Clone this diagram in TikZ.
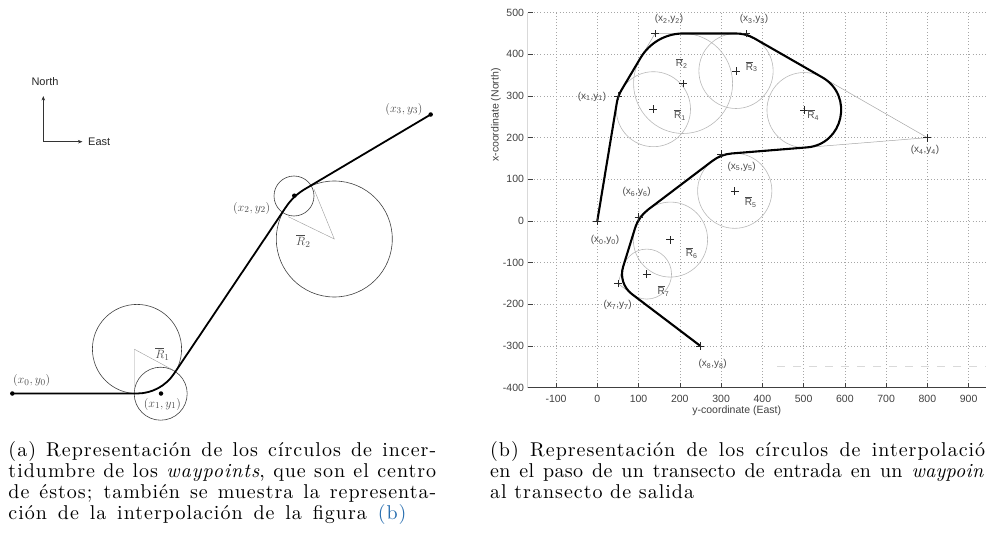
\documentclass[tikz,border=0pt]{standalone}
\usepackage{fontspec}
\setsansfont{Liberation Sans}
\newfontfamily\capfont{lmroman10-regular.otf}[ItalicFont=lmroman10-italic.otf, LetterSpace=5]
\newfontfamily\capfontt{lmroman10-regular.otf}[ItalicFont=lmroman10-italic.otf, LetterSpace=1.5]
\usetikzlibrary{calc,shapes.misc,arrows.meta}
\definecolor{linkblue}{RGB}{40,110,175}
\newcommand\Rbar[1]{$\overline{\mbox{R}}$\textsubscript{#1}}
\newcommand\wl[1]{(x\textsubscript{#1},y\textsubscript{#1})}
\tikzset{
  pathA/.style={draw=black, line width=1.8pt, line join=round},
  circA/.style={draw=black!75, line width=0.6pt},
  triA/.style={draw=black!40, line width=0.4pt},
  dotA/.style={circle, fill=black, inner sep=0pt, minimum size=4.5pt},
  mathlbl/.style={font=\fontsize{12.5}{14}\selectfont, text=black!70, inner sep=0pt},
  compass/.style={draw=black!80, line width=0.6pt, -{Stealth[length=4.5pt,width=3.5pt]}},
  sanslbl/.style={font=\sffamily\fontsize{11}{13}\selectfont, text=black!85, inner sep=0pt},
  gridline/.style={draw=black!35, line width=0.4pt, dash pattern=on 0.8pt off 2.4pt},
  axisline/.style={draw=black!75, line width=0.7pt},
  axisleft/.style={draw=black!15, line width=0.5pt},
  tickmark/.style={draw=black!75, line width=0.6pt},
  ticklbl/.style={font=\sffamily\fontsize{10.5}{12}\selectfont, text=black!75, inner sep=0pt},
  polyB/.style={draw=black!35, line width=0.5pt},
  circB/.style={draw=black!28, line width=0.6pt},
  pathB/.style={draw=black, line width=2.1pt, line join=round},
  plusm/.style={cross out, draw=black!85, line width=0.6pt, minimum size=5pt, inner sep=0pt, rotate=45},
  wlbl/.style={font=\sffamily\fontsize{10}{12}\selectfont, text=black!70, inner sep=0pt},
  caption/.style={font=\capfont\fontsize{20}{21}\selectfont, inner sep=0pt, anchor=base west},
  captiont/.style={font=\capfontt\fontsize{20}{21}\selectfont, inner sep=0pt, anchor=base west},
}
\begin{document}
\begin{tikzpicture}[x=1pt,y=-1pt]
\useasboundingbox (0,0) rectangle (986,535);

% ---------------- panel (a) ----------------
\node[sanslbl] (north) at (45,82) {North};
\node[sanslbl, anchor=west] (east) at (88,141.7) {East};
\coordinate (o) at (43.3,141.7);
\draw[compass] (o) -- (43.3,96);
\draw[compass] (o) -- (82.5,141.7);

\coordinate (a0) at (12.3,393.5);
\coordinate (a1) at (161,393.5);
\coordinate (a2) at (294.3,195.7);
\coordinate (a3) at (430.7,114.5);
\coordinate (c1) at (137,349);
\coordinate (c2) at (334.3,239);

\draw[circA] (c1) circle[radius=44.6];
\draw[circA] (c2) circle[radius=58];
\draw[circA] (160.7,393.7) circle[radius=26.5];
\draw[circA] (294,196) circle[radius=20];

\draw[triA] (134.5,393.5) -- (134.5,349.3) -- (175.7,371.5);
\draw[triA] (314,189.3) -- (c2) -- (288.3,216.7);

\draw[pathA] (a0) -- (137,393.5) arc[start angle=90, end angle=33.9, radius=44.5]
   -- (286.2,206.7) arc[start angle=213.9, end angle=239.2, radius=57.9] -- (a3);

\node[dotA] (d0) at (a0) {};
\node[dotA] (d1) at (a1) {};
\node[dotA] (d2) at (a2) {};
\node[dotA] (d3) at (a3) {};

\node[mathlbl] (la0) at (31.7,380.5) {$(x_0,y_0)$};
\node[mathlbl] (la1) at (162.3,404) {$(x_1,y_1)$};
\node[mathlbl] (la2) at (251.7,208) {$(x_2,y_2)$};
\node[mathlbl] (la3) at (404,109) {$(x_3,y_3)$};
\node[mathlbl] (lr1) at (162.5,354) {$\overline{R}_1$};
\node[mathlbl] (lr2) at (303.3,241) {$\overline{R}_2$};

% ---------------- panel (b) ----------------
\draw[black!15, line width=0.8pt, dash pattern=on 8pt off 8pt] (777,366) -- (986,366);
\begin{scope}[shift={(597.3,221)}, x=0.4126pt, y=0.4167pt]
  \foreach \u in {-100,0,...,900} \draw[gridline] (\u,-400) -- (\u,500);
  \foreach \v in {-300,-200,...,500} \draw[gridline] (-168.7,\v) -- (945,\v);
  \draw[axisleft] (-168.7,-400) -- (-168.7,500);
  \draw[axisline] (-168.7,-400) -- (945,-400);
  \foreach \u in {-100,0,...,900} {
    \draw[tickmark] (\u,-400) -- ++(0pt,5pt);
    \node[ticklbl, yshift=-11pt] (xt\u) at (\u,-400) {\u};
  }
  \foreach \v in {-400,-300,...,500} {
    \draw[tickmark] (-168.7,\v) -- ++(5pt,0pt);
    \node[ticklbl, anchor=east, xshift=-3.5pt] (yt\v) at (-168.7,\v) {\v};
  }

  \coordinate (P0) at (0,0);
  \coordinate (P1) at (50,300);
  \coordinate (P2) at (140,450);
  \coordinate (P3) at (360,450);
  \coordinate (P4) at (800,200);
  \coordinate (P5) at (300,160);
  \coordinate (P6) at (100,10);
  \coordinate (P7) at (50,-150);
  \coordinate (P8) at (250,-300);
  \coordinate (C1) at (135.9,268.3);
  \coordinate (C2) at (207.9,330);
  \coordinate (C3) at (336.2,360);
  \coordinate (C4) at (501.2,266.3);
  \coordinate (C5) at (333.1,72.4);
  \coordinate (C6) at (177.3,-44.6);
  \coordinate (C7) at (119.9,-127.4);

  \draw[polyB] (P0) -- (P1) -- (P2) -- (P3) -- (P4) -- (P5) -- (P6) -- (P7) -- (P8);

  \draw[circB] (C1) circle[radius=90];
  \draw[circB] (C2) circle[radius=120];
  \draw[circB] (C3) circle[radius=90];
  \draw[circB] (C4) circle[radius=90];
  \draw[circB] (C5) circle[radius=90];
  \draw[circB] (C6) circle[radius=90];
  \draw[circB] (C7) circle[radius=60];

  \coordinate (T1a) at (47.19,283.15);  \coordinate (T1b) at (58.79,314.65);
  \coordinate (T2a) at (105.03,391.72); \coordinate (T2b) at (207.97,450);
  \coordinate (T3a) at (336.22,450);    \coordinate (T3b) at (380.67,438.25);
  \coordinate (T4a) at (545.44,344.64); \coordinate (T4b) at (508.14,176.66);
  \coordinate (T5a) at (325.98,162.08); \coordinate (T5b) at (279.15,144.36);
  \coordinate (T6a) at (123.24,27.43);  \coordinate (T6b) at (91.33,-17.73);
  \coordinate (T7a) at (62.64,-109.56); \coordinate (T7b) at (83.9,-175.42);

  \draw[pathB] (P0) -- (T1a)
    .. controls ($(T1a)!0.6607!(P1)$) and ($(T1b)!0.6607!(P1)$) .. (T1b) -- (T2a)
    .. controls ($(T2a)!0.6203!(P2)$) and ($(T2b)!0.6203!(P2)$) .. (T2b) -- (T3a)
    .. controls ($(T3a)!0.6556!(P3)$) and ($(T3b)!0.6556!(P3)$) .. (T3b) -- (T4a)
    .. controls ($(T4a)!0.3028!(P4)$) and ($(T4b)!0.3028!(P4)$) .. (T4b) -- (T5a)
    .. controls ($(T5a)!0.6533!(P5)$) and ($(T5b)!0.6533!(P5)$) .. (T5b) -- (T6a)
    .. controls ($(T6a)!0.6502!(P6)$) and ($(T6b)!0.6502!(P6)$) .. (T6b) -- (T7a)
    .. controls ($(T7a)!0.5996!(P7)$) and ($(T7b)!0.5996!(P7)$) .. (T7b) -- (P8);

  \foreach \p in {P0,P1,P2,P3,P4,P5,P6,P7,P8,C1,C2,C3,C4,C5,C6,C7}
    \node[plusm] (m\p) at (\p) {};
\end{scope}

\node[wlbl] (lb0) at (605,240) {\wl{0}};
\node[wlbl] (lb1) at (592,96.7) {\wl{1}};
\node[wlbl] (lb2) at (669,19.3) {\wl{2}};
\node[wlbl] (lb3) at (754,19.3) {\wl{3}};
\node[wlbl] (lb4) at (925,150) {\wl{4}};
\node[wlbl] (lb5) at (741.7,166.7) {\wl{5}};
\node[wlbl] (lb6) at (636.7,192.3) {\wl{6}};
\node[wlbl] (lb7) at (617.7,305) {\wl{7}};
\node[wlbl] (lb8) at (712.7,364) {\wl{8}};

\node[wlbl] (rb1) at (680,115) {\Rbar{1}};
\node[wlbl] (rb2) at (681.7,63.3) {\Rbar{2}};
\node[wlbl] (rb3) at (751.7,66.7) {\Rbar{3}};
\node[wlbl] (rb4) at (813.3,115) {\Rbar{4}};
\node[wlbl] (rb5) at (750.7,202.3) {\Rbar{5}};
\node[wlbl] (rb6) at (691.7,253.3) {\Rbar{6}};
\node[wlbl] (rb7) at (663.5,291) {\Rbar{7}};

\node[ticklbl, rotate=90] (ylab) at (496,115) {x-coordinate (North)};
\node[ticklbl] (xlab) at (736.7,410.5) {y-coordinate (East)};

% ---------------- captions ----------------
\node[caption] (ca1) at (8.3,456.5) {\makebox[427.7pt][s]{(a) Representación de los círculos de incer-}};
\node[caption] (ca2) at (8.3,477.5) {\makebox[427.7pt][s]{tidumbre de los \textit{waypoints}, que son el centro}};
\node[caption] (ca3) at (8.3,498.5) {\makebox[427.7pt][s]{de éstos; también se muestra la representa-}};
\node[caption] (ca4) at (8.3,519.5) {\makebox[398pt][s]{ción de la interpolación de la figura \textcolor{linkblue}{(b)}}};

\node[caption] (cb1) at (490,456.5) {\makebox[495pt][s]{(b) Representación de los círculos de interpolació}};
\node[captiont] (cb2) at (490,477.5) {\makebox[494pt][s]{en el paso de un transecto de entrada en un \textit{waypoin}}};
\node[caption] (cb3) at (490,498.5) {al transecto de salida};
\end{tikzpicture}
\end{document}
